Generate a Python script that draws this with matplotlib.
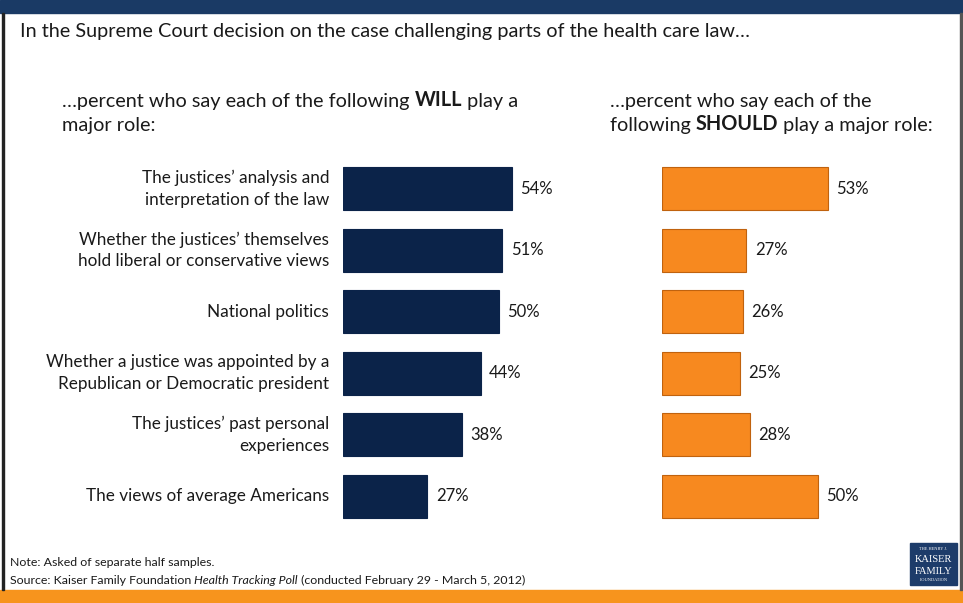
import matplotlib
matplotlib.use("Agg")
import matplotlib.pyplot as plt
from matplotlib.patches import Rectangle
from matplotlib.transforms import Affine2D

plt.rcParams['font.family'] = ['Lato', 'DejaVu Sans']

# survey data
categories = [
    "The justices\u2019 analysis and\ninterpretation of the law",
    "Whether the justices\u2019 themselves\nhold liberal or conservative views",
    "National politics",
    "Whether a justice was appointed by a\nRepublican or Democratic president",
    "The justices\u2019 past personal\nexperiences",
    "The views of average Americans",
]
will_play = [54, 51, 50, 44, 38, 27]
should_play = [53, 27, 26, 25, 28, 50]

NAVY = "#0b2349"
ORANGE = "#f7891f"
INK = "#1a1a1a"
W, H = 963, 603

fig = plt.figure(figsize=(W / 100, H / 100), dpi=100)
# pixel coordinates, y pointing down
px = Affine2D().scale(1 / W, -1 / H).translate(0, 1) + fig.transFigure

# frame: top band, bottom band, side rules
fig.patches.append(Rectangle((0, 0), W, 13, transform=px, color="#1a3a65", zorder=0))
fig.patches.append(Rectangle((0, 590), W, 13, transform=px, color="#f7941d", zorder=0))
fig.patches.append(Rectangle((2, 13), 2, 577, transform=px, color="#222222", zorder=0))
fig.patches.append(Rectangle((960, 13), 2, 577, transform=px, color="#555555", zorder=0))


def chain(x, y, parts, size):
    """Draw a line made of (text, weight, style) pieces side by side."""
    ann = fig.text(x, y, parts[0][0], transform=px, fontsize=size,
                   fontweight=parts[0][1], fontstyle=parts[0][2],
                   va="center", ha="left", color=INK)
    for txt, w, s in parts[1:]:
        ann = fig.axes[0].annotate(txt, xy=(1, 0), xycoords=ann,
                                   va="bottom", ha="left", fontsize=size,
                                   fontweight=w, fontstyle=s, color=INK,
                                   annotation_clip=False)
    return ann


# bar panels
slot = 61.5
top, bottom = 158, 158 + slot * 6
panels = []
for x0, vals, color, edge in [(343, will_play, NAVY, NAVY),
                              (662, should_play, ORANGE, "#c0620e")]:
    ax = fig.add_axes([x0 / W, 1 - bottom / H, 250 / W, (bottom - top) / H])
    ypos = range(len(vals))
    ax.barh(ypos, vals, height=0.7, color=color, edgecolor=edge, linewidth=0.8)
    for i, v in enumerate(vals):
        ax.annotate(f"{v}%", (v, i), xytext=(6, 0), textcoords="offset points",
                    va="center", ha="left", fontsize=12, color=INK)
    ax.set_xlim(0, 80)
    ax.set_ylim(len(vals) - 0.5, -0.5)
    ax.axis("off")
    panels.append(ax)

ax = panels[0]
for i, cat in enumerate(categories):
    ax.annotate(cat, (0, i), xytext=(-10, 0), textcoords="offset points",
                ha="right", va="center", fontsize=12.3, linespacing=1.45,
                color=INK)

# headings
fig.text(20, 32, "In the Supreme Court decision on the case challenging parts of the health care law\u2026",
         transform=px, fontsize=14.3, va="center", color=INK)
chain(62, 101, [("\u2026percent who say each of the following ", "normal", "normal"),
                ("WILL", "bold", "normal"),
                (" play a", "normal", "normal")], 14.3)
fig.text(62, 125, "major role:", transform=px, fontsize=14.3, va="center", color=INK)
fig.text(610, 101, "\u2026percent who say each of the", transform=px, fontsize=14.3,
         va="center", color=INK)
chain(610, 125, [("following ", "normal", "normal"),
                 ("SHOULD", "bold", "normal"),
                 (" play a major role:", "normal", "normal")], 14.3)

# footnotes
fig.text(10, 563, "Note: Asked of separate half samples.", transform=px, fontsize=8.9,
         va="center", color=INK)
chain(10, 580, [("Source: Kaiser Family Foundation ", "normal", "normal"),
                ("Health Tracking Poll", "normal", "italic"),
                (" (conducted February 29 - March 5, 2012)", "normal", "normal")], 8.9)

# logo block
fig.patches.append(Rectangle((910, 543), 47, 42, transform=px, color="#1d3c6a", zorder=1))
logo_lines = [(549, "THE HENRY J.", 3.2), (560, "KAISER", 7.5),
              (571, "FAMILY", 7.5), (580, "FOUNDATION", 3.2)]
for ly, txt, sz in logo_lines:
    fig.text(933.5, ly, txt, transform=px, ha="center", va="center",
             color="white", fontsize=sz, family="Liberation Serif")

fig.savefig("out.png", dpi=100)
